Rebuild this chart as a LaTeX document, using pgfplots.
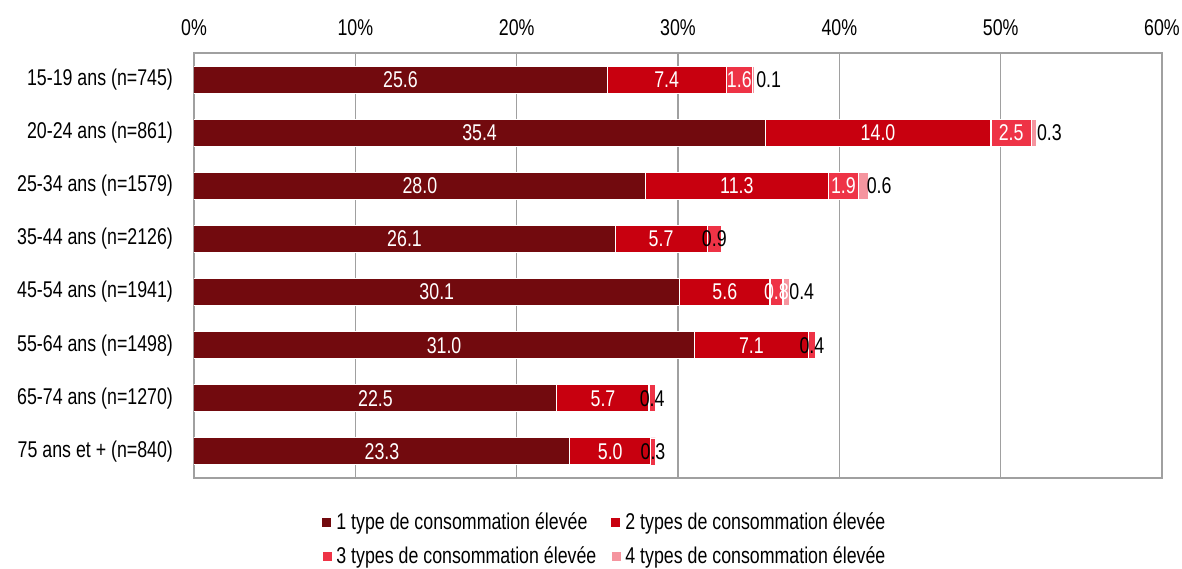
\documentclass[border=0pt]{standalone}
\usepackage{fontspec}
\setmainfont{Liberation Sans}[FakeStretch=0.78]
\usepackage{pgfplots}
\usepackage{pgfplotstable}
\pgfplotsset{compat=1.18}
\definecolor{c1}{HTML}{720A0E}
\definecolor{c2}{HTML}{C8000F}
\definecolor{c3}{HTML}{EE3346}
\definecolor{c4}{HTML}{F5959F}
\definecolor{gridc}{HTML}{A0A0A0}
\pgfplotstableread{
y a b c d lc sd
0 25.6 7.4 1.6 0.1 1 1
1 35.4 14.0 2.5 0.3 1 1
2 28.0 11.3 1.9 0.6 1 1
3 26.1 5.7 0.9 0.0 0 0
4 30.1 5.6 0.8 0.4 1 1
5 31.0 7.1 0.4 0.0 0 0
6 22.5 5.7 0.4 0.0 0 0
7 23.3 5.0 0.3 0.0 0 0
}\data
\newcommand{\lbl}{\pgfmathprintnumber[fixed,fixed zerofill,precision=1]{\pgfplotspointmeta}}
\newcommand{\fs}{\fontsize{11.4}{13}\selectfont}
\begin{document}
\begin{tikzpicture}
\begin{axis}[
  xbar stacked, bar width=13.5pt,
  width=484pt, height=212.5pt, scale only axis,
  xmin=0, xmax=60, ymin=-0.5, ymax=7.5, y dir=reverse,
  xtick={0,10,...,60}, xticklabel={\pgfmathprintnumber{\tick}\%},
  xticklabel pos=upper,
  ytick={0,...,7},
  yticklabels={15-19 ans (n=745),20-24 ans (n=861),25-34 ans (n=1579),35-44 ans (n=2126),45-54 ans (n=1941),55-64 ans (n=1498),65-74 ans (n=1270),75 ans et + (n=840)},
  major tick length=0pt,
  xmajorgrids, grid style={gridc, line width=0.6pt},
  axis line style={gridc, line width=0.6pt},
  tick label style={font=\fs},
  yticklabel style={xshift=-7pt},
  xticklabel style={yshift=5pt},
  /pgf/number format/assume math mode=true,
  legend style={at={(0.425,-0.062)}, anchor=north, draw=none, legend columns=2,
    font=\fs, row sep=3pt,
    /tikz/every even column/.append style={column sep=5pt}},
  legend cell align=left,
  legend image code/.code={\fill[#1] (0pt,-2.5pt) rectangle (5pt,2.5pt);},
  every node near coord/.append style={font=\fs},
]
\addplot[fill=c1, draw=white, line width=0.5pt, point meta=explicit,
  nodes near coords={\lbl},
  every node near coord/.append style={anchor=center, text=white}]
  table[x=a, y=y, meta=a] {\data};
\addplot[fill=c2, draw=white, line width=0.5pt, point meta=explicit,
  nodes near coords={\lbl},
  every node near coord/.append style={anchor=center, text=white}]
  table[x=b, y=y, meta=b] {\data};
\addplot[fill=c3, draw=white, line width=0.4pt, point meta=explicit,
  visualization depends on={\thisrow{lc} \as \lc},
  nodes near coords={\ifdim\lc pt>0.5pt \color{white}\fi\lbl},
  every node near coord/.append style={anchor=center, inner sep=0pt}]
  table[x=c, y=y, meta=c] {\data};
\addplot[fill=c4, draw=white, line width=0.3pt, point meta=explicit,
  visualization depends on={\thisrow{sd} \as \sd},
  nodes near coords={\ifdim\sd pt>0.5pt \lbl\fi},
  every node near coord/.append style={anchor=west, text=black, inner sep=1.5pt}]
  table[x=d, y=y, meta=d] {\data};
\legend{1 type de consommation élevée, 2 types de consommation élevée, 3 types de consommation élevée, 4 types de consommation élevée}
\end{axis}
\pgfresetboundingbox
\path ([xshift=-97pt,yshift=-45pt]current axis.south west) rectangle ([xshift=10pt,yshift=26.5pt]current axis.north east);
\end{tikzpicture}
\end{document}
